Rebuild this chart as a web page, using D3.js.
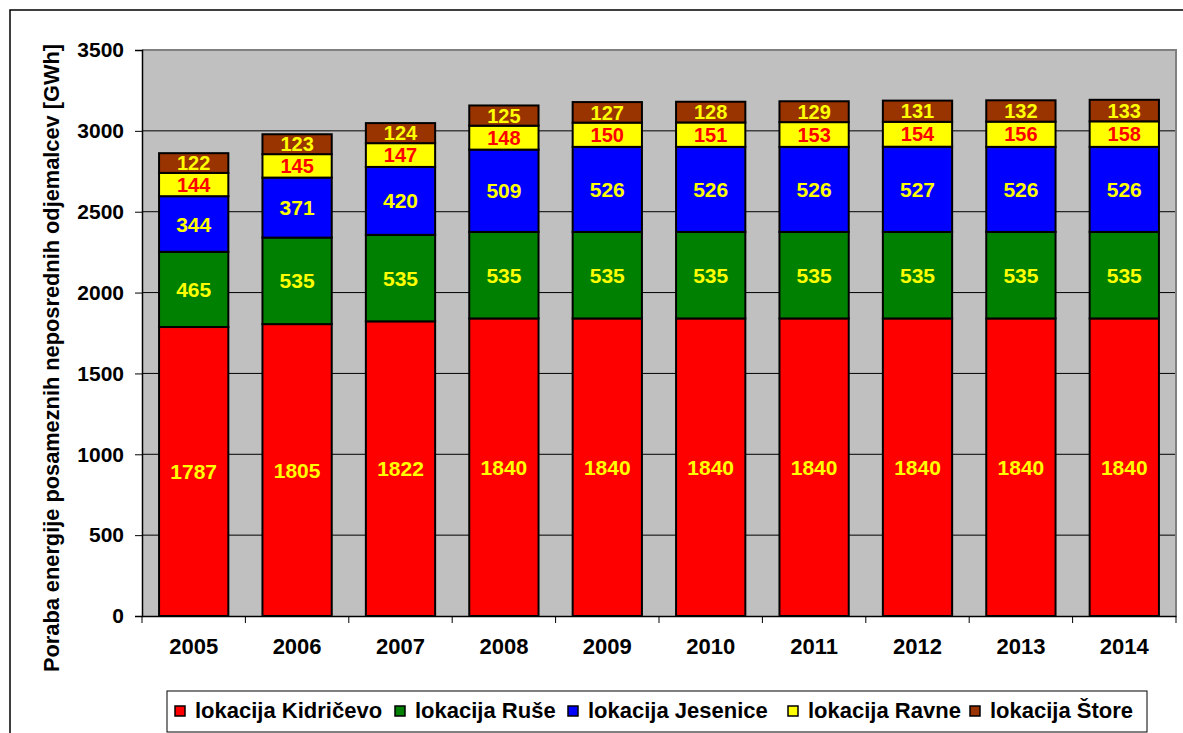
<!DOCTYPE html>
<html>
<head>
<meta charset="utf-8">
<script src="https://cdn.jsdelivr.net/npm/d3@7"></script>
<style>
  html, body { margin: 0; padding: 0; background: #fff; }
  svg { display: block; font-family: "Liberation Sans", Arial, sans-serif; font-weight: bold; }
</style>
</head>
<body>
<svg id="chart" width="1183" height="733"></svg>
<script>
const years = ["2005","2006","2007","2008","2009","2010","2011","2012","2013","2014"];
const seriesNames = ["lokacija Kidričevo","lokacija Ruše","lokacija Jesenice","lokacija Ravne","lokacija Štore"];
const kidricevo = [1787,1805,1822,1840,1840,1840,1840,1840,1840,1840];
const ruse      = [465,535,535,535,535,535,535,535,535,535];
const jesenice  = [344,371,420,509,526,526,526,527,526,526];
const ravne     = [144,145,147,148,150,151,153,154,156,158];
const store     = [122,123,124,125,127,128,129,131,132,133];
const yTicks = [0,500,1000,1500,2000,2500,3000,3500];
const colors = ["#FF0000","#008000","#0000FF","#FFFF00","#993300"];
const labelColors = ["#FFFF00","#FFFF00","#FFFF00","#FF0000","#FFFF00"];
const yTitle = "Poraba energije posameznih neposrednih odjemalcev [GWh]";

const FF = '"Liberation Sans", Arial, sans-serif';
const svg = d3.select("#chart");
// outer frame
svg.append("rect").attr("x",10).attr("y",10).attr("width",1200).attr("height",800)
  .attr("fill","#fff").attr("stroke","#000").attr("stroke-width",1.5);

const L = 142, R = 1176, T = 50, B = 616;
const x = d3.scaleBand().domain(years).range([L,R]).paddingInner(0.33).paddingOuter(0.165);
const xb = d3.scaleBand().domain(years).range([L,R]);
const y = d3.scaleLinear().domain([0,3500]).range([B,T]);

// plot background
svg.append("rect").attr("x",L).attr("y",T).attr("width",R-L).attr("height",B-T).attr("fill","#C0C0C0");

// gridlines
svg.append("g").selectAll("line").data(yTicks.filter(d=>d>0 && d<3500)).join("line")
  .attr("x1",L).attr("x2",R).attr("y1",d=>y(d)).attr("y2",d=>y(d))
  .attr("stroke","#000").attr("stroke-width",1);

// plot border top/right
svg.append("path").attr("d",`M${L},${T}H${R}V${B}`).attr("fill","none").attr("stroke","#808080").attr("stroke-width",2);

// stacked data
const rows = years.map((yr,i)=>({year:yr, v:[kidricevo[i],ruse[i],jesenice[i],ravne[i],store[i]]}));
const keys = [0,1,2,3,4];
const stack = d3.stack().keys(keys).value((d,k)=>d.v[k]);
const stacked = stack(rows);

const gBars = svg.append("g");
stacked.forEach((layer,k)=>{
  gBars.append("g").selectAll("rect").data(layer).join("rect")
    .attr("x",d=>x(d.data.year)).attr("width",x.bandwidth())
    .attr("y",d=>y(d[1])).attr("height",d=>y(d[0])-y(d[1]))
    .attr("fill",colors[k]).attr("stroke","#000").attr("stroke-width",2);
});
stacked.forEach((layer,k)=>{
  gBars.append("g").selectAll("text").data(layer).join("text")
    .attr("x",d=>x(d.data.year)+x.bandwidth()/2)
    .attr("y",d=>(y(d[0])+y(d[1]))/2)
    .attr("dy","0.36em").attr("text-anchor","middle")
    .attr("font-size",k>=3 ? 20 : 21).attr("fill",labelColors[k])
    .text(d=>d.data.v[k]);
});

// y axis
const yAxis = svg.append("g").attr("transform",`translate(${L},0)`)
  .call(d3.axisLeft(y).tickValues(yTicks).tickSize(7).tickPadding(11).tickFormat(d3.format("d")));
yAxis.select(".domain").attr("stroke","#000").attr("stroke-width",1.5);
yAxis.selectAll(".tick line").attr("stroke","#000");
yAxis.selectAll("text").attr("font-size",21).attr("font-weight","bold").attr("fill","#000")
  .attr("font-family",FF);

// x axis
const xAxis = svg.append("g").attr("transform",`translate(0,${B})`)
  .call(d3.axisBottom(xb).tickSize(0).tickPadding(22));
xAxis.select(".domain").attr("stroke","#000").attr("stroke-width",1.5);
xAxis.selectAll("text").attr("font-size",22).attr("font-weight","bold").attr("fill","#000")
  .attr("font-family",FF);
// x ticks at band boundaries
const bounds = years.map(d=>xb(d)).concat([R]);
svg.append("g").selectAll("line").data(bounds).join("line")
  .attr("x1",d=>d).attr("x2",d=>d).attr("y1",B).attr("y2",B+7)
  .attr("stroke","#000").attr("stroke-width",1);

// y title
svg.append("text").attr("transform",`translate(59,358) rotate(-90)`)
  .attr("text-anchor","middle").attr("font-size",22).attr("fill","#000")
  .attr("textLength",628).attr("lengthAdjust","spacingAndGlyphs").text(yTitle);

// legend
const lg = svg.append("g");
lg.append("rect").attr("x",167).attr("y",691).attr("width",980).attr("height",41)
  .attr("fill","#fff").attr("stroke","#000").attr("stroke-width",1);
const legX = [175,395,568,788,970];
seriesNames.forEach((n,i)=>{
  lg.append("rect").attr("x",legX[i]).attr("y",706).attr("width",10).attr("height",10)
    .attr("fill",colors[i]).attr("stroke","#000").attr("stroke-width",1.5);
  lg.append("text").attr("x",legX[i]+20).attr("y",718).attr("font-size",22).attr("fill","#000").text(n);
});
</script>
</body>
</html>
